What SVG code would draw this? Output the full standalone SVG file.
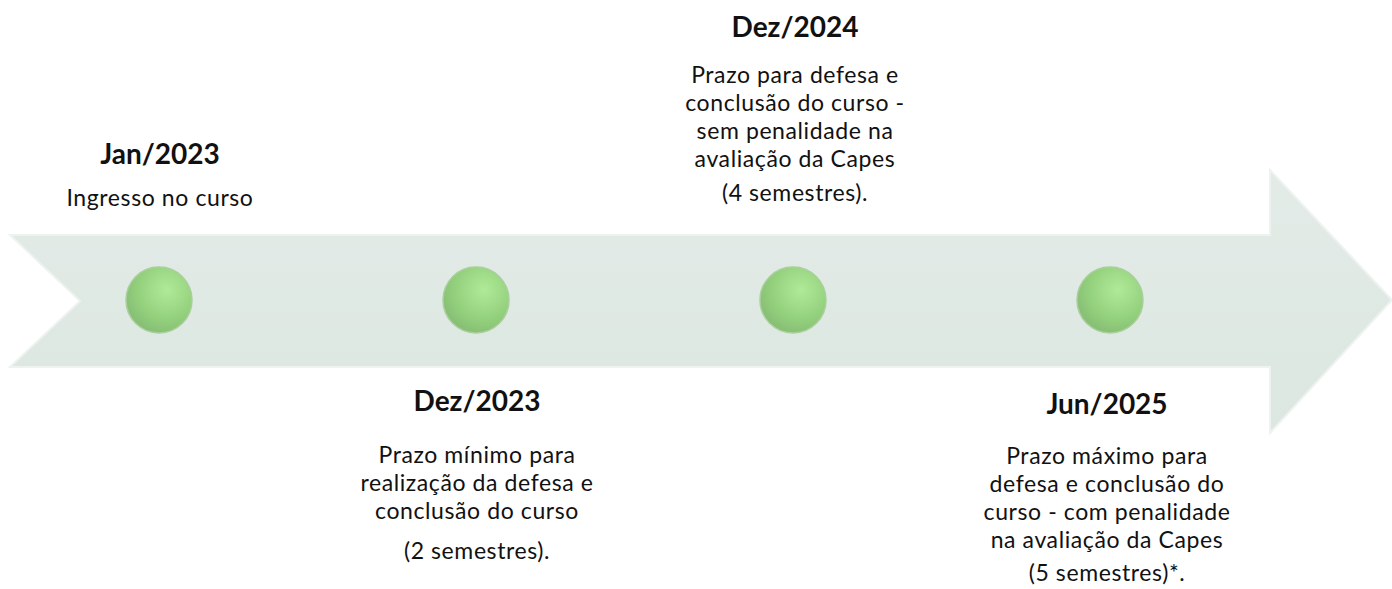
<svg xmlns="http://www.w3.org/2000/svg" width="1392" height="589" viewBox="0 0 1392 589">
<defs>
<linearGradient id="arrowFill" x1="0" y1="0" x2="0" y2="1">
<stop offset="0" stop-color="#e3ebe7"/>
<stop offset="1" stop-color="#dce7e1"/>
</linearGradient>
<radialGradient id="dotFill" cx="0.62" cy="0.35" r="0.75">
<stop offset="0" stop-color="#b0ea98"/>
<stop offset="0.6" stop-color="#93d07c"/>
<stop offset="1" stop-color="#82b873"/>
</radialGradient>
</defs>
<style>
.t{font-family:Lato,"Open Sans","Liberation Sans",sans-serif;fill:#111;text-anchor:middle}
.h{font-size:28px;font-weight:bold}
.b{font-size:23px;letter-spacing:0.6px}
.dot{fill:url(#dotFill);stroke:#a9cf9b;stroke-width:1.5}
</style>
<g id="arrow">
<path d="M10,235 L1270,235 L1270,170 L1392,300 L1270,433 L1270,367 L10,367 L80,301 Z" fill="url(#arrowFill)" stroke="#eef3f0" stroke-width="2"/>
</g>
<g id="node-jan2023">
<circle class="dot" cx="159" cy="300" r="33"/>
<text class="t h" x="160" y="164">Jan/2023</text>
<text class="t b" x="160" y="206">Ingresso no curso</text>
</g>
<g id="node-dez2023">
<circle class="dot" cx="476" cy="300" r="33"/>
<text class="t h" x="477" y="411">Dez/2023</text>
<text class="t b" x="477" y="463">Prazo mínimo para</text>
<text class="t b" x="477" y="491">realização da defesa e</text>
<text class="t b" x="477" y="519">conclusão do curso</text>
<text class="t b" x="477" y="559">(2 semestres).</text>
</g>
<g id="node-dez2024">
<circle class="dot" cx="793" cy="300" r="33"/>
<text class="t h" x="795" y="37">Dez/2024</text>
<text class="t b" x="795" y="83">Prazo para defesa e</text>
<text class="t b" x="795" y="111">conclusão do curso -</text>
<text class="t b" x="795" y="139">sem penalidade na</text>
<text class="t b" x="795" y="167">avaliação da Capes</text>
<text class="t b" x="795" y="201">(4 semestres).</text>
</g>
<g id="node-jun2025">
<circle class="dot" cx="1110" cy="300" r="33"/>
<text class="t h" x="1107" y="414">Jun/2025</text>
<text class="t b" x="1107" y="464">Prazo máximo para</text>
<text class="t b" x="1107" y="492">defesa e conclusão do</text>
<text class="t b" x="1107" y="520">curso - com penalidade</text>
<text class="t b" x="1107" y="548">na avaliação da Capes</text>
<text class="t b" x="1107" y="581">(5 semestres)*.</text>
</g>
<g id="connectors"></g>
</svg>
